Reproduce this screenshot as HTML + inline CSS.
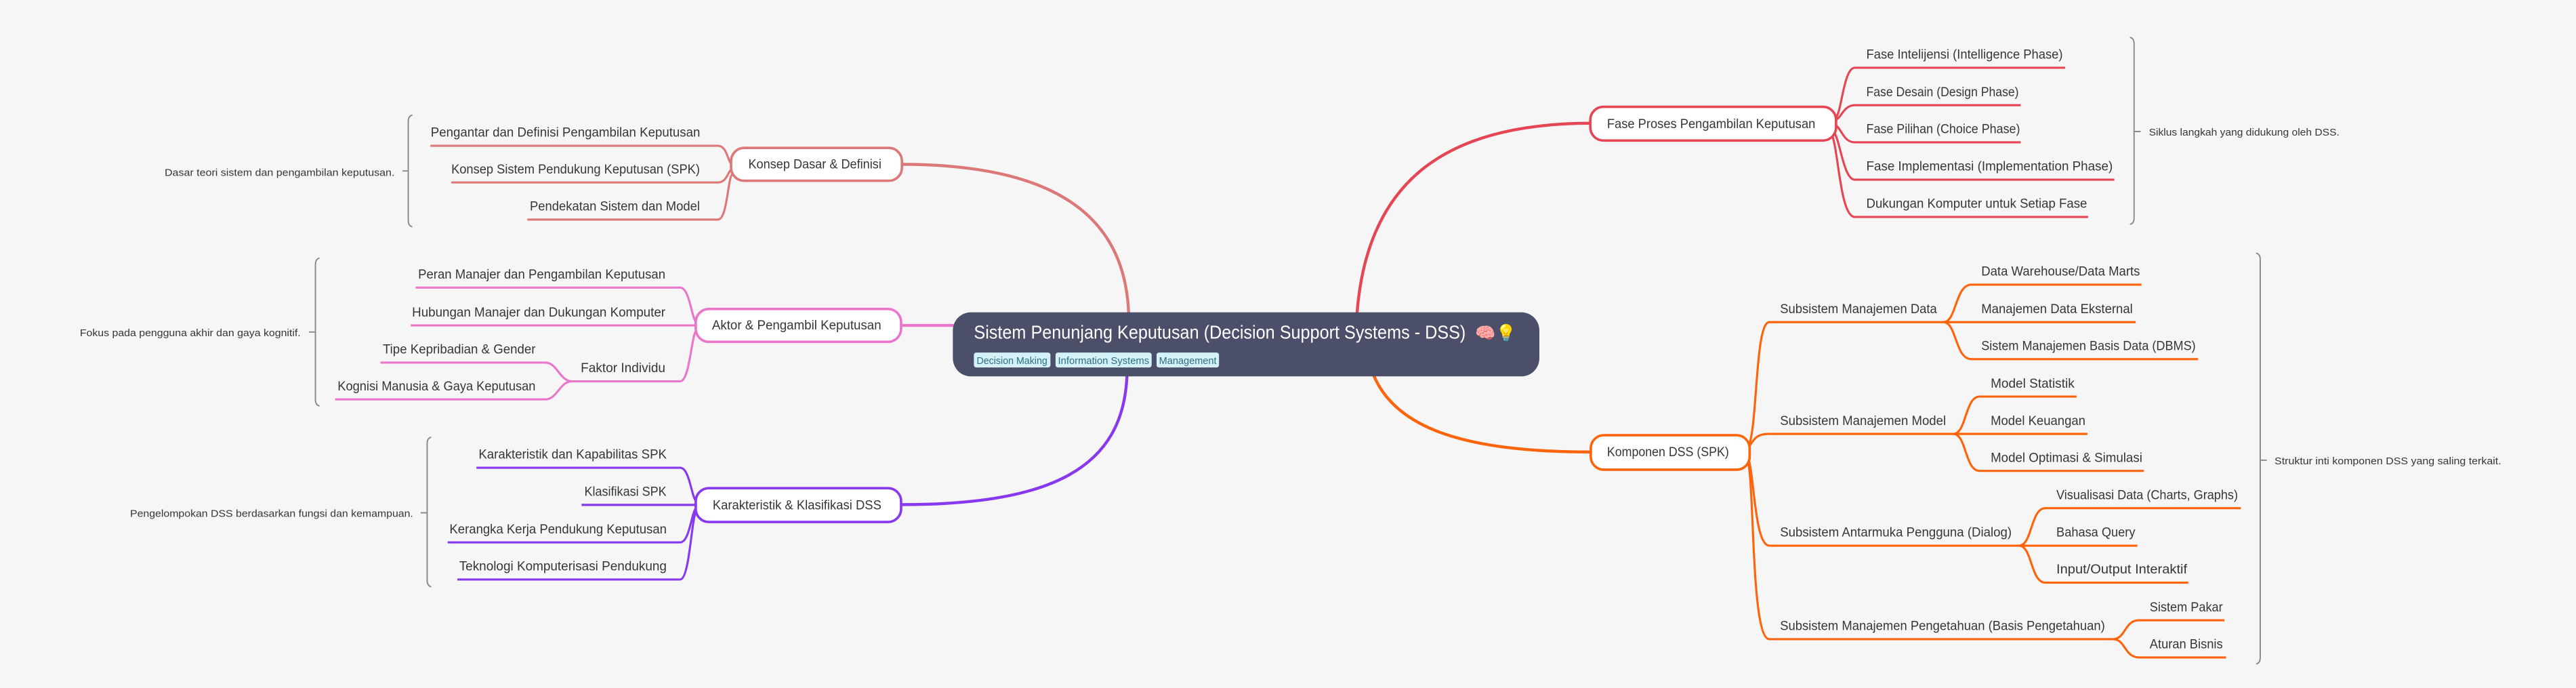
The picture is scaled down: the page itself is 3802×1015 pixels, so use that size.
<!DOCTYPE html>
<html><head><meta charset="utf-8"><style>
html,body{margin:0;padding:0;background:#f6f6f6;}
svg{display:block;}
text{font-family:"Liberation Sans","Noto Sans CJK SC",sans-serif;fill:#363636;}
.c{font-size:8px;}
.s{font-size:6.2px;}
.n{font-size:8px;}
.u{fill:none;stroke-width:1.3;}
.m{fill:none;stroke-width:1.8;stroke-linecap:round;}
.b{fill:none;stroke:#8a8a8a;stroke-width:0.8;}
</style></head><body>
<svg width="3802" height="1015" viewBox="0 0 1568 418.6" xmlns="http://www.w3.org/2000/svg">
<rect width="1568" height="418.6" fill="#f6f6f6"/>

<!-- main connectors -->
<path class="m" stroke="#dd7878" d="M687 191 C685 130,640 100,549 100"/>
<path class="m" stroke="#ea76cb" d="M580 198 H548"/>
<path class="m" stroke="#8839ef" d="M686 228 C684 285,640 307,549 307"/>
<path class="m" stroke="#e64553" d="M826 191 C832 110,880 75,968 75"/>
<path class="m" stroke="#fe640b" d="M836 228 C850 262,895 275,968 275"/>

<!-- ROOT -->
<rect x="580" y="190" width="357" height="39" rx="11" fill="#4c4f69"/>
<text x="592.8" y="206" style="font-size:11.5px;fill:#fff" textLength="299.4" lengthAdjust="spacingAndGlyphs">Sistem Penunjang Keputusan (Decision Support Systems - DSS)</text>
<text x="898" y="206" style="font-size:10px;fill:#fff">🧠💡</text>
<rect x="592.8" y="214.5" width="46.6" height="9.1" rx="1.5" fill="#d4f1f7"/>
<rect x="642.5" y="214.5" width="58.5" height="9.1" rx="1.5" fill="#d4f1f7"/>
<rect x="704" y="214.5" width="38" height="9.1" rx="1.5" fill="#d4f1f7"/>
<text x="594.5" y="221.5" style="font-size:6px;fill:#2b6f85" textLength="43" lengthAdjust="spacingAndGlyphs">Decision Making</text>
<text x="644" y="221.5" style="font-size:6px;fill:#2b6f85" textLength="55.5" lengthAdjust="spacingAndGlyphs">Information Systems</text>
<text x="705.5" y="221.5" style="font-size:6px;fill:#2b6f85" textLength="35" lengthAdjust="spacingAndGlyphs">Management</text>

<!-- KONSEP -->
<g stroke="#dd7878">
<path class="u" d="M262 88.7 H437 C443 88.7,443 100,446 100"/>
<path class="u" d="M274.7 111 H437 C443 111,443 103,446 103"/>
<path class="u" d="M321 133.6 H437 C443 133.6,443 106,446 106"/>
</g>
<rect x="445" y="90" width="104" height="20" rx="8" fill="#fff" stroke="#dd7878" stroke-width="1.5"/>
<text class="n" x="455.5" y="102.5" textLength="81" lengthAdjust="spacingAndGlyphs">Konsep Dasar &amp; Definisi</text>
<text class="c" x="262.2" y="83" textLength="164" lengthAdjust="spacingAndGlyphs">Pengantar dan Definisi Pengambilan Keputusan</text>
<text class="c" x="274.7" y="105.5" textLength="151.3" lengthAdjust="spacingAndGlyphs">Konsep Sistem Pendukung Keputusan (SPK)</text>
<text class="c" x="322.5" y="128" textLength="103.5" lengthAdjust="spacingAndGlyphs">Pendekatan Sistem dan Model</text>
<path class="b" d="M251 70 Q248.5 70.5,248.5 74 V134 Q248.5 137.5,251 138 M248.5 104 H245"/>
<text class="s" x="100.2" y="107" textLength="140" lengthAdjust="spacingAndGlyphs">Dasar teori sistem dan pengambilan keputusan.</text>

<!-- AKTOR -->
<g stroke="#ea76cb">
<path class="u" d="M253 175 H414 C420 175,421 195,424 196"/>
<path class="u" d="M250 198 H424"/>
<path class="u" d="M348 232 H414 C420 232,421 202,424 201"/>
<path class="u" d="M231.6 220.6 H332 C339 220.6,341 232,348 232"/>
<path class="u" d="M204 243 H332 C339 243,341 232,348 232"/>
</g>
<rect x="423.5" y="188" width="125" height="20" rx="8" fill="#fff" stroke="#ea76cb" stroke-width="1.5"/>
<text class="n" x="433.4" y="200.5" textLength="103" lengthAdjust="spacingAndGlyphs">Aktor &amp; Pengambil Keputusan</text>
<text class="c" x="254.5" y="169.5" textLength="150.5" lengthAdjust="spacingAndGlyphs">Peran Manajer dan Pengambilan Keputusan</text>
<text class="c" x="250.8" y="192.5" textLength="154.2" lengthAdjust="spacingAndGlyphs">Hubungan Manajer dan Dukungan Komputer</text>
<text class="c" x="353.5" y="226.5" textLength="51.5" lengthAdjust="spacingAndGlyphs">Faktor Individu</text>
<text class="c" x="233" y="215" textLength="93" lengthAdjust="spacingAndGlyphs">Tipe Kepribadian &amp; Gender</text>
<text class="c" x="205.5" y="237.5" textLength="120.5" lengthAdjust="spacingAndGlyphs">Kognisi Manusia &amp; Gaya Keputusan</text>
<path class="b" d="M194.5 157 Q192 157.5,192 161 V243 Q192 246.5,194.5 247 M192 202 H188"/>
<text class="s" x="48.6" y="204.5" textLength="134.4" lengthAdjust="spacingAndGlyphs">Fokus pada pengguna akhir dan gaya kognitif.</text>

<!-- KARAKTERISTIK -->
<g stroke="#8839ef">
<path class="u" d="M290 284.6 H414 C420 284.6,421 304,424 305"/>
<path class="u" d="M354 307.2 H424"/>
<path class="u" d="M272.5 330 H414 C420 330,421 310,424 309"/>
<path class="u" d="M278.4 352.6 H414 C420 352.6,421 312,424 311"/>
</g>
<rect x="423.5" y="297" width="125" height="20.6" rx="8" fill="#fff" stroke="#8839ef" stroke-width="1.5"/>
<text class="n" x="433.8" y="310" textLength="102.7" lengthAdjust="spacingAndGlyphs">Karakteristik &amp; Klasifikasi DSS</text>
<text class="c" x="291.3" y="279" textLength="114.5" lengthAdjust="spacingAndGlyphs">Karakteristik dan Kapabilitas SPK</text>
<text class="c" x="355.7" y="301.7" textLength="50" lengthAdjust="spacingAndGlyphs">Klasifikasi SPK</text>
<text class="c" x="273.6" y="324.5" textLength="132.2" lengthAdjust="spacingAndGlyphs">Kerangka Kerja Pendukung Keputusan</text>
<text class="c" x="279.5" y="347" textLength="126.3" lengthAdjust="spacingAndGlyphs">Teknologi Komputerisasi Pendukung</text>
<path class="b" d="M262.5 266 Q260 266.5,260 270 V353 Q260 356.5,262.5 357 M260 312 H256"/>
<text class="s" x="79.2" y="314.5" textLength="172.3" lengthAdjust="spacingAndGlyphs">Pengelompokan DSS berdasarkan fungsi dan kemampuan.</text>

<!-- FASE -->
<g stroke="#e64553">
<path class="u" d="M1117 72 C1121 70,1122 41.2,1129 41.2 H1257"/>
<path class="u" d="M1117 73 C1121 72,1122 64,1129 64 H1230"/>
<path class="u" d="M1117 76 C1121 78,1122 86.6,1129 86.6 H1230"/>
<path class="u" d="M1116 80 C1120 84,1122 109.3,1129 109.3 H1287"/>
<path class="u" d="M1115 82 C1119 90,1120 132,1129 132 H1271"/>
</g>
<rect x="968" y="65" width="149.6" height="20.5" rx="8" fill="#fff" stroke="#e64553" stroke-width="1.5"/>
<text class="n" x="978.2" y="78" textLength="126.8" lengthAdjust="spacingAndGlyphs">Fase Proses Pengambilan Keputusan</text>
<text class="c" x="1136" y="35.7" textLength="119.6" lengthAdjust="spacingAndGlyphs">Fase Intelijensi (Intelligence Phase)</text>
<text class="c" x="1136" y="58.5" textLength="92.8" lengthAdjust="spacingAndGlyphs">Fase Desain (Design Phase)</text>
<text class="c" x="1136" y="81" textLength="93.6" lengthAdjust="spacingAndGlyphs">Fase Pilihan (Choice Phase)</text>
<text class="c" x="1136" y="103.8" textLength="150" lengthAdjust="spacingAndGlyphs">Fase Implementasi (Implementation Phase)</text>
<text class="c" x="1136" y="126.5" textLength="134.4" lengthAdjust="spacingAndGlyphs">Dukungan Komputer untuk Setiap Fase</text>
<path class="b" d="M1296.5 22.7 Q1299 23.2,1299 26.7 V132.5 Q1299 136,1296.5 136.5 M1299 80 H1303"/>
<text class="s" x="1308" y="82.5" textLength="116" lengthAdjust="spacingAndGlyphs">Siklus langkah yang didukung oleh DSS.</text>

<!-- KOMPONEN -->
<g stroke="#fe640b">
<path class="u" d="M1064 272 C1070 262,1068 196,1077 196 H1183"/>
<path class="u" d="M1064 273 C1068 266,1070 264,1077 264 H1189"/>
<path class="u" d="M1064 278 C1068 290,1068 332,1077 332 H1229"/>
<path class="u" d="M1064 280 C1068 300,1066 388.9,1077 388.9 H1286"/>
<!-- data -->
<path class="u" d="M1183 196 C1191 196,1190 173.2,1200 173.2 H1303.5"/>
<path class="u" d="M1183 196 H1300"/>
<path class="u" d="M1183 196 C1191 196,1190 218.5,1200 218.5 H1338"/>
<!-- model -->
<path class="u" d="M1189 264 C1197 264,1196 241.3,1205 241.3 H1264"/>
<path class="u" d="M1189 264 H1270.6"/>
<path class="u" d="M1189 264 C1197 264,1196 286.5,1205 286.5 H1305"/>
<!-- dialog -->
<path class="u" d="M1229 332 C1237 332,1236 309.2,1245 309.2 H1364"/>
<path class="u" d="M1229 332 H1301"/>
<path class="u" d="M1229 332 C1237 332,1236 354.5,1245 354.5 H1332"/>
<!-- pengetahuan -->
<path class="u" d="M1286 388.9 C1294 388.9,1293 377.4,1302 377.4 H1354"/>
<path class="u" d="M1286 388.9 C1294 388.9,1293 400,1302 400 H1355"/>
</g>
<rect x="968.3" y="264.8" width="96.7" height="21" rx="8" fill="#fff" stroke="#fe640b" stroke-width="1.5"/>
<text class="n" x="978.2" y="277.5" textLength="74.2" lengthAdjust="spacingAndGlyphs">Komponen DSS (SPK)</text>
<text class="c" x="1083.5" y="190.5" textLength="95.5" lengthAdjust="spacingAndGlyphs">Subsistem Manajemen Data</text>
<text class="c" x="1083.5" y="258.5" textLength="101" lengthAdjust="spacingAndGlyphs">Subsistem Manajemen Model</text>
<text class="c" x="1083.5" y="326.5" textLength="141" lengthAdjust="spacingAndGlyphs">Subsistem Antarmuka Pengguna (Dialog)</text>
<text class="c" x="1083.5" y="383.4" textLength="197.8" lengthAdjust="spacingAndGlyphs">Subsistem Manajemen Pengetahuan (Basis Pengetahuan)</text>
<text class="c" x="1206" y="167.7" textLength="96.6" lengthAdjust="spacingAndGlyphs">Data Warehouse/Data Marts</text>
<text class="c" x="1206" y="190.5" textLength="92.2" lengthAdjust="spacingAndGlyphs">Manajemen Data Eksternal</text>
<text class="c" x="1206" y="213" textLength="130.5" lengthAdjust="spacingAndGlyphs">Sistem Manajemen Basis Data (DBMS)</text>
<text class="c" x="1211.7" y="235.8" textLength="51" lengthAdjust="spacingAndGlyphs">Model Statistik</text>
<text class="c" x="1211.7" y="258.5" textLength="57.7" lengthAdjust="spacingAndGlyphs">Model Keuangan</text>
<text class="c" x="1211.7" y="281" textLength="92.3" lengthAdjust="spacingAndGlyphs">Model Optimasi &amp; Simulasi</text>
<text class="c" x="1251.7" y="303.7" textLength="110.5" lengthAdjust="spacingAndGlyphs">Visualisasi Data (Charts, Graphs)</text>
<text class="c" x="1251.7" y="326.5" textLength="48" lengthAdjust="spacingAndGlyphs">Bahasa Query</text>
<text class="c" x="1251.7" y="349" textLength="79.6" lengthAdjust="spacingAndGlyphs">Input/Output Interaktif</text>
<text class="c" x="1308.5" y="371.9" textLength="44.5" lengthAdjust="spacingAndGlyphs">Sistem Pakar</text>
<text class="c" x="1308.5" y="394.5" textLength="44.5" lengthAdjust="spacingAndGlyphs">Aturan Bisnis</text>
<path class="b" d="M1373.3 154 Q1375.8 154.5,1375.8 158 V400 Q1375.8 403.5,1373.3 404 M1375.8 280 H1379.8"/>
<text class="s" x="1384.5" y="282.5" textLength="138" lengthAdjust="spacingAndGlyphs">Struktur inti komponen DSS yang saling terkait.</text>
</svg>
</body></html>
